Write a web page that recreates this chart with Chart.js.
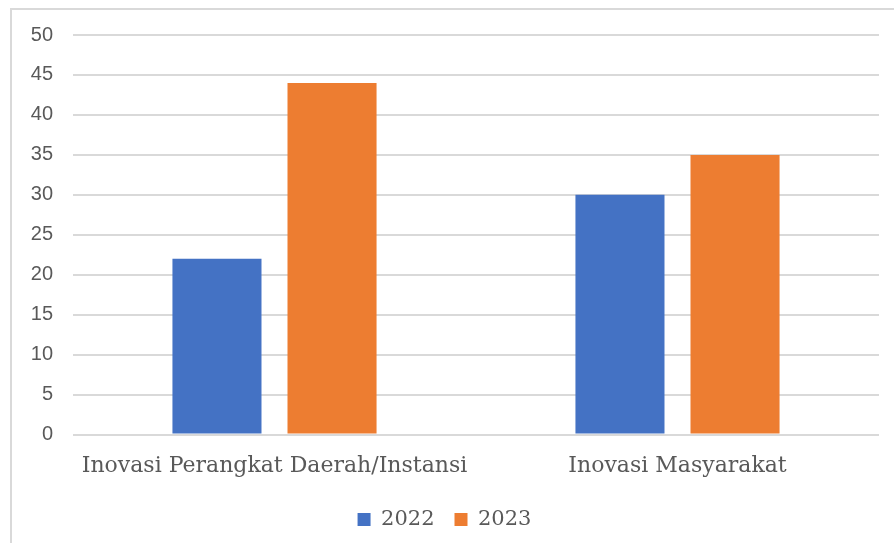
<!DOCTYPE html>
<html><head><meta charset="utf-8">
<script src="https://cdn.jsdelivr.net/npm/chart.js@4/dist/chart.umd.min.js"></script>
<style>
html,body{margin:0;padding:0;background:#fff;overflow:hidden;}
#frame{position:absolute;left:10px;top:8px;width:1000px;height:700px;border:2px solid #d9d9d9;box-sizing:border-box;}
#wrap{position:absolute;left:0;top:0;width:894px;height:543px;}
</style></head>
<body>
<div id="frame"></div>
<div id="wrap"><canvas id="c" width="894" height="543"></canvas></div>
<script>
const categories = ["Inovasi Perangkat Daerah/Instansi", "Inovasi Masyarakat"];
const seriesNames = ["2022", "2023"];
const values2022 = [22, 30];
const values2023 = [44, 35];
const yTicks = [0, 5, 10, 15, 20, 25, 30, 35, 40, 45, 50];

new Chart(document.getElementById('c'), {
  type: 'bar',
  data: {
    labels: categories,
    datasets: [
      {label: seriesNames[0], data: values2022, backgroundColor: '#4472C4', categoryPercentage: 0.571, barPercentage: 0.774},
      {label: seriesNames[1], data: values2023, backgroundColor: '#ED7D31', categoryPercentage: 0.571, barPercentage: 0.774}
    ]
  },
  options: {
    responsive: false,
    animation: false,
    layout: {padding: {top: 35, right: 15, left: 10, bottom: 3}},
    plugins: {
      tooltip: {enabled: false},
      legend: {
        position: 'bottom',
        labels: {boxWidth: 13, boxHeight: 13, color: '#595959', padding: 20,
          font: {family: 'DejaVu Serif', size: 21}}
      }
    },
    scales: {
      x: {
        grid: {display: false},
        border: {display: false},
        ticks: {color: '#595959', padding: 10, font: {family: 'DejaVu Serif', size: 22}}
      },
      y: {
        min: 0, max: 50,
        afterFit: s => { s.width = 63; },
        afterBuildTicks: s => { s.ticks = yTicks.map(v => ({value: v})); },
        grid: {color: '#d9d9d9', lineWidth: 2, drawTicks: false},
        border: {display: false},
        ticks: {color: '#595959', padding: 20, font: {family: 'Liberation Sans', size: 20}}
      }
    }
  }
});
</script>
</body></html>
